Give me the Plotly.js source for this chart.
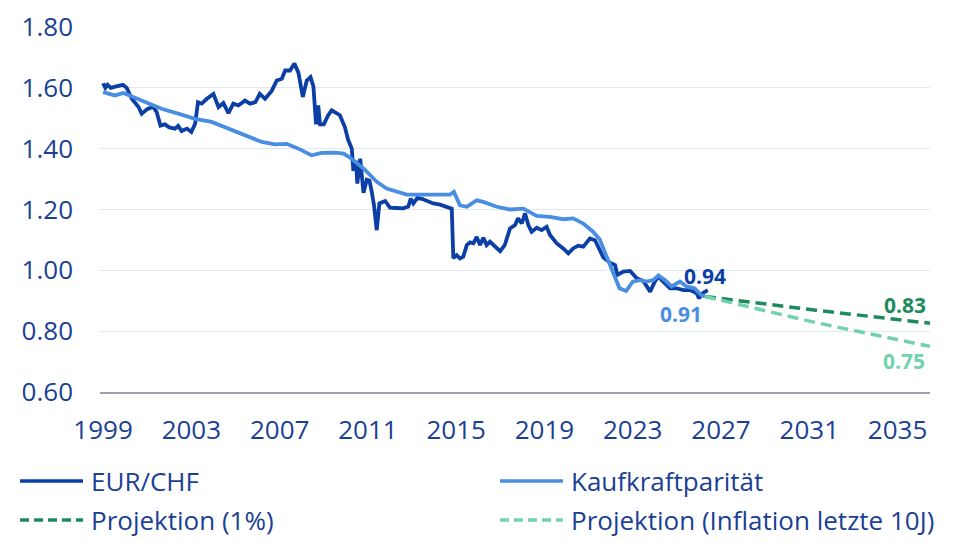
<!DOCTYPE html>
<html>
<head>
<meta charset="utf-8">
<script src="https://cdn.plot.ly/plotly-3.0.1.min.js"></script>
<style>
  html, body { margin: 0; padding: 0; background: #fff; }
  #chart { width: 960px; height: 543px; }
</style>
</head>
<body>
<div id="chart"></div>
<script>
/* EUR/CHF vs. Kaufkraftparität mit Projektionen */

// EUR/CHF (Jahr, Kurs)
const eurX = [1999.0, 1999.1, 1999.2, 1999.35, 1999.6, 1999.9, 2000.07, 2000.3, 2000.6, 2000.75,
  2001.0, 2001.27, 2001.43, 2001.6, 2001.8, 2002.0, 2002.26, 2002.4, 2002.56, 2002.8,
  2003.0, 2003.17, 2003.3, 2003.47, 2003.7, 2004.0, 2004.23, 2004.45, 2004.68, 2004.9,
  2005.13, 2005.43, 2005.66, 2005.9, 2006.1, 2006.34, 2006.64, 2006.87, 2007.1, 2007.25,
  2007.47, 2007.67, 2007.85, 2008.05, 2008.23, 2008.4, 2008.53, 2008.65, 2008.75, 2008.83,
  2009.0, 2009.2, 2009.36, 2009.73, 2009.96, 2010.1, 2010.27, 2010.34, 2010.46, 2010.52,
  2010.65, 2010.8, 2010.95, 2011.07, 2011.17, 2011.28, 2011.4, 2011.52, 2011.78, 2012.0,
  2012.3, 2012.6, 2012.83, 2012.94, 2013.06, 2013.24, 2013.45, 2013.66, 2013.96, 2014.27,
  2014.57, 2014.8, 2014.87, 2015.02, 2015.17, 2015.32, 2015.48, 2015.63, 2015.78, 2015.93,
  2016.08, 2016.23, 2016.38, 2016.53, 2016.99, 2017.2, 2017.44, 2017.67, 2017.8, 2017.97,
  2018.12, 2018.27, 2018.42, 2018.65, 2018.87, 2019.1, 2019.25, 2019.55, 2019.85, 2020.08,
  2020.3, 2020.53, 2020.76, 2021.06, 2021.29, 2021.44, 2021.67, 2021.97, 2022.2, 2022.3,
  2022.58, 2022.88, 2023.18, 2023.48, 2023.79, 2024.0, 2024.16, 2024.38, 2024.69, 2024.99,
  2025.29, 2025.6, 2025.9, 2026.0, 2026.17, 2026.4];
const eurY = [1.615, 1.600, 1.610, 1.600, 1.605, 1.610, 1.600, 1.564, 1.538, 1.515,
  1.530, 1.538, 1.520, 1.476, 1.480, 1.470, 1.466, 1.475, 1.458, 1.466,
  1.455, 1.482, 1.553, 1.548, 1.564, 1.580, 1.537, 1.550, 1.517, 1.548,
  1.542, 1.558, 1.548, 1.553, 1.580, 1.564, 1.590, 1.624, 1.630, 1.657,
  1.657, 1.680, 1.650, 1.570, 1.624, 1.635, 1.605, 1.480, 1.542, 1.480,
  1.480, 1.510, 1.526, 1.510, 1.470, 1.430, 1.400, 1.327, 1.360, 1.285,
  1.367, 1.255, 1.298, 1.295, 1.260, 1.212, 1.132, 1.220, 1.228, 1.206,
  1.205, 1.204, 1.210, 1.236, 1.220, 1.238, 1.235, 1.230, 1.220, 1.216,
  1.209, 1.203, 1.040, 1.050, 1.039, 1.045, 1.083, 1.092, 1.089, 1.110,
  1.083, 1.107, 1.083, 1.094, 1.063, 1.083, 1.138, 1.149, 1.171, 1.154,
  1.187, 1.149, 1.127, 1.140, 1.132, 1.143, 1.116, 1.089, 1.072, 1.056,
  1.072, 1.081, 1.078, 1.105, 1.099, 1.075, 1.042, 1.025, 1.017, 0.985,
  0.996, 0.998, 0.974, 0.965, 0.930, 0.963, 0.979, 0.963, 0.941, 0.941,
  0.935, 0.935, 0.925, 0.908, 0.925, 0.935];

// Kaufkraftparität
const pppX = [1999.0, 1999.54, 1999.92, 2000.3, 2000.9, 2001.65, 2002.4, 2003.17, 2003.92, 2004.68,
  2005.43, 2006.19, 2006.79, 2007.32, 2007.85, 2008.45, 2008.9, 2009.5, 2009.9, 2010.2,
  2010.8, 2011.4, 2011.85, 2012.3, 2012.76, 2013.36, 2014.12, 2014.72, 2014.9, 2015.17,
  2015.48, 2015.93, 2016.23, 2016.84, 2017.44, 2018.04, 2018.65, 2019.25, 2019.85, 2020.3,
  2020.76, 2021.2, 2021.5, 2021.8, 2022.1, 2022.4, 2022.7, 2023.0, 2023.33, 2023.63,
  2023.93, 2024.16, 2024.46, 2024.76, 2025.14, 2025.44, 2025.8, 2026.1, 2026.27];
const pppY = [1.586, 1.575, 1.583, 1.572, 1.553, 1.531, 1.515, 1.498, 1.488, 1.466,
  1.444, 1.422, 1.414, 1.416, 1.400, 1.378, 1.386, 1.387, 1.384, 1.370,
  1.335, 1.291, 1.269, 1.258, 1.249, 1.249, 1.249, 1.249, 1.258, 1.214,
  1.209, 1.230, 1.225, 1.209, 1.200, 1.203, 1.179, 1.176, 1.168, 1.171,
  1.154, 1.127, 1.102, 1.050, 0.996, 0.941, 0.932, 0.963, 0.968, 0.963,
  0.968, 0.983, 0.968, 0.947, 0.963, 0.947, 0.941, 0.919, 0.914];

// Projektionen
const proj1X = [2026.27, 2031.3, 2036.47];
const proj1Y = [0.914, 0.869, 0.826];
const projInflX = [2026.27, 2031.3, 2036.47];
const projInflY = [0.914, 0.828, 0.750];

const xTicks = [1999, 2003, 2007, 2011, 2015, 2019, 2023, 2027, 2031, 2035];

const C_EUR = '#0b3fa6';
const C_PPP = '#4a8ee2';
const C_P1 = '#1e8a5d';
const C_PI = '#72d2ae';
const C_TEXT = '#1b3f94';
const FONT = 'Open Sans, Noto Sans, sans-serif';

const traces = [
  { x: eurX, y: eurY, type: 'scatter', mode: 'lines', name: 'EUR/CHF',
    line: { color: C_EUR, width: 3.8 } },
  { x: pppX, y: pppY, type: 'scatter', mode: 'lines', name: 'Kaufkraftparität',
    line: { color: C_PPP, width: 3.8 } },
  { x: proj1X, y: proj1Y, type: 'scatter', mode: 'lines', name: 'Projektion (1%)',
    line: { color: C_P1, width: 3.5, dash: '11px,6px' } },
  { x: projInflX, y: projInflY, type: 'scatter', mode: 'lines', name: 'Projektion (Inflation letzte 10J)',
    line: { color: C_PI, width: 3.5, dash: '11px,6px' } },
];

// legend drawn by hand: two columns, symbol + text
const legendRows = [
  { name: 'EUR/CHF', color: C_EUR, dash: 'solid', col: 0, row: 0 },
  { name: 'Kaufkraftparität', color: C_PPP, dash: 'solid', col: 1, row: 0 },
  { name: 'Projektion (1%)', color: C_P1, dash: '9px,5px', col: 0, row: 1 },
  { name: 'Projektion (Inflation letzte 10J)', color: C_PI, dash: '9px,5px', col: 1, row: 1 },
];
const plotL = 100, plotW = 830, plotB = 392, plotH = 365;
const shapes = [];
const annotations = [];
legendRows.forEach(it => {
  const x0 = it.col === 0 ? 20 : 500;
  const yPx = it.row === 0 ? 481 : 520;
  const yp = (plotB - yPx) / plotH;
  shapes.push({ type: 'line', xref: 'paper', yref: 'paper',
    x0: (x0 - plotL) / plotW, x1: (x0 + 63 - plotL) / plotW, y0: yp, y1: yp,
    line: { color: it.color, width: 3.5, dash: it.dash } });
  annotations.push({ xref: 'paper', yref: 'paper', x: (x0 + 69 - plotL) / plotW, y: yp,
    xanchor: 'left', yanchor: 'middle', showarrow: false, text: it.name,
    font: { size: 26, color: C_TEXT, family: FONT } });
});

// end value labels
const endLabels = [
  { x: 2026.28, y: 0.980, text: '0.94', color: C_EUR },
  { x: 2025.19, y: 0.856, text: '0.91', color: C_PPP },
  { x: 2035.32, y: 0.887, text: '0.83', color: C_P1 },
  { x: 2035.30, y: 0.703, text: '0.75', color: C_PI },
];
endLabels.forEach(l => {
  annotations.push({ x: l.x, y: l.y, xref: 'x', yref: 'y', showarrow: false,
    text: '<b>' + l.text + '</b>', font: { size: 21, color: l.color, family: FONT } });
});

const layout = {
  width: 960, height: 543,
  margin: { l: plotL, r: 960 - plotL - plotW, t: 27, b: 543 - plotB },
  paper_bgcolor: '#fff', plot_bgcolor: '#fff',
  showlegend: false,
  font: { family: FONT, color: C_TEXT, size: 26 },
  xaxis: {
    range: [1998.86, 2036.47],
    tickvals: xTicks,
    ticktext: xTicks.map(String),
    showgrid: false, zeroline: false,
    showline: true, linecolor: '#9aa3ae', linewidth: 1.5,
    ticks: '', ticklabelstandoff: 14,
    tickfont: { size: 26, color: C_TEXT },
  },
  yaxis: {
    range: [0.6, 1.8],
    dtick: 0.2, tick0: 0.6,
    tickformat: '.2f',
    showgrid: true, gridcolor: '#dfe7f1', gridwidth: 1.2,
    zeroline: false, showline: false,
    ticks: '', ticklabelstandoff: 26,
    tickfont: { size: 26, color: C_TEXT },
  },
  shapes: shapes,
  annotations: annotations,
};

Plotly.newPlot('chart', traces, layout, { displayModeBar: false, staticPlot: true });
</script>
</body>
</html>
